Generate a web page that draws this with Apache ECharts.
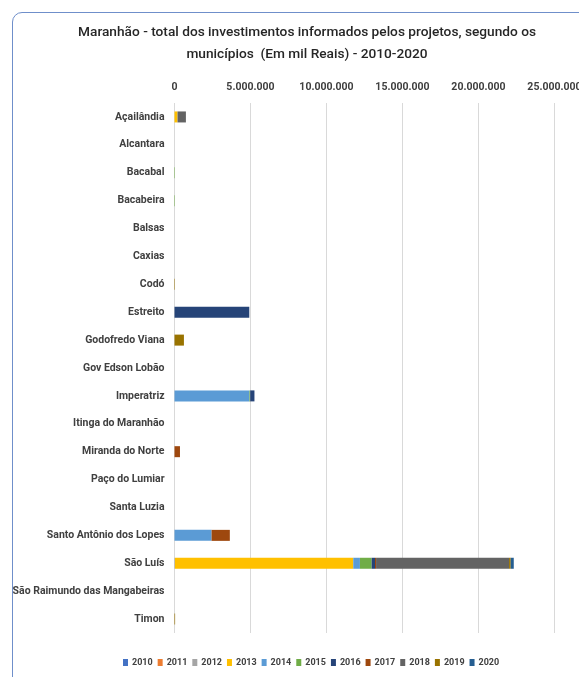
<!DOCTYPE html>
<html>
<head>
<meta charset="utf-8">
<script src="https://cdn.jsdelivr.net/npm/echarts@6/dist/echarts.min.js"></script>
<style>
  html, body { margin: 0; padding: 0; background: #fff; }
  #wrap { position: relative; width: 579px; height: 677px; overflow: hidden; }
  #frame { position: absolute; left: 12px; top: 12px; width: 620px; height: 700px;
           border: 1px solid #6f8fca; border-radius: 10px; box-sizing: border-box; }
  #chart { position: absolute; left: 0; top: 0; width: 579px; height: 677px; }
</style>
</head>
<body>
<div id="wrap">
  <div id="frame"></div>
  <div id="chart"></div>
</div>
<script>
// municípios (de cima para baixo)
var municipios = ['Açailândia', 'Alcantara', 'Bacabal', 'Bacabeira', 'Balsas', 'Caxias', 'Codó',
  'Estreito', 'Godofredo Viana', 'Gov Edson Lobão', 'Imperatriz', 'Itinga do Maranhão',
  'Miranda do Norte', 'Paço do Lumiar', 'Santa Luzia', 'Santo Antônio dos Lopes', 'São Luís',
  'São Raimundo das Mangabeiras', 'Timon'];

var anos = ['2010', '2011', '2012', '2013', '2014', '2015', '2016', '2017', '2018', '2019', '2020'];
var cores = ['#4472C4', '#ED7D31', '#A5A5A5', '#FFC000', '#5B9BD5', '#70AD47', '#264478',
  '#9E480E', '#636363', '#997300', '#255E91'];

// investimentos em mil reais, por ano
var v2010 = [0, 0, 0, 0, 0, 0, 0, 0, 0, 0, 0, 0, 0, 0, 0, 0, 0, 0, 0];
var v2011 = [0, 0, 0, 0, 0, 0, 0, 0, 0, 0, 0, 0, 0, 0, 0, 0, 0, 0, 0];
var v2012 = [0, 0, 0, 0, 0, 0, 0, 0, 0, 0, 0, 0, 0, 0, 0, 0, 30000, 0, 0];
var v2013 = [200000, 0, 0, 0, 0, 0, 0, 0, 0, 0, 0, 0, 0, 0, 0, 0, 11730000, 0, 0];
var v2014 = [0, 0, 0, 0, 0, 0, 0, 0, 0, 0, 4930000, 0, 0, 0, 0, 2440000, 440000, 0, 0];
var v2015 = [0, 0, 30000, 30000, 0, 0, 0, 0, 0, 0, 50000, 0, 0, 0, 0, 0, 770000, 0, 0];
var v2016 = [0, 0, 0, 0, 0, 0, 0, 4920000, 0, 0, 280000, 0, 0, 0, 0, 0, 220000, 0, 0];
var v2017 = [0, 0, 0, 0, 0, 0, 0, 0, 0, 0, 0, 0, 360000, 0, 0, 1200000, 70000, 0, 0];
var v2018 = [550000, 0, 0, 0, 0, 0, 0, 0, 0, 0, 0, 0, 0, 0, 0, 0, 8750000, 0, 0];
var v2019 = [0, 0, 0, 0, 0, 0, 30000, 0, 620000, 0, 0, 0, 0, 0, 0, 0, 110000, 0, 40000];
var v2020 = [0, 0, 0, 0, 0, 0, 0, 0, 0, 0, 0, 0, 0, 0, 0, 0, 200000, 0, 0];

var valores = [v2010, v2011, v2012, v2013, v2014, v2015, v2016, v2017, v2018, v2019, v2020];

var fonte = 'Roboto, sans-serif';

var myChart = echarts.init(document.getElementById('chart'));

var series = anos.map(function (ano, i) {
  return {
    name: ano,
    type: 'bar',
    stack: 'total',
    barWidth: 11,
    itemStyle: { color: cores[i] },
    data: valores[i]
  };
});

var option = {
  animation: false,
  textStyle: { fontFamily: fonte },
  title: {
    text: 'Maranhão - total dos investimentos informados pelos projetos, segundo os\nmunicípios  (Em mil Reais) - 2010-2020',
    left: 302,
    textAlign: 'center',
    top: 17,
    textStyle: { fontSize: 13.7, fontWeight: 500, color: '#262626', lineHeight: 22, fontFamily: fonte }
  },
  legend: {
    bottom: 5,
    left: 118,
    itemWidth: 5,
    itemHeight: 7,
    itemGap: 5,
    icon: 'rect',
    textStyle: { fontSize: 9, fontWeight: 'bold', color: '#404040', fontFamily: fonte, padding: [0, 0, 0, -1] },
    data: anos
  },
  grid: { left: 174.5, right: 24.5, top: 103, bottom: 44, outerBoundsMode: 'none' },
  xAxis: {
    type: 'value',
    position: 'top',
    min: 0,
    max: 25000000,
    interval: 5000000,
    axisLine: { show: false },
    axisTick: { show: false },
    splitLine: { lineStyle: { color: '#d9d9d9', width: 1 } },
    axisLabel: {
      color: '#404040', fontSize: 10.5, fontWeight: 'bold', fontFamily: fonte, margin: 10,
      formatter: function (v) { return v.toString().replace(/\B(?=(\d{3})+(?!\d))/g, '.'); }
    }
  },
  yAxis: {
    type: 'category',
    inverse: true,
    data: municipios,
    axisLine: { show: false },
    axisTick: { show: false },
    axisLabel: { color: '#404040', fontSize: 10.5, fontWeight: 'bold', fontFamily: fonte, margin: 10 }
  },
  series: series
};

myChart.setOption(option);
</script>
</body>
</html>
